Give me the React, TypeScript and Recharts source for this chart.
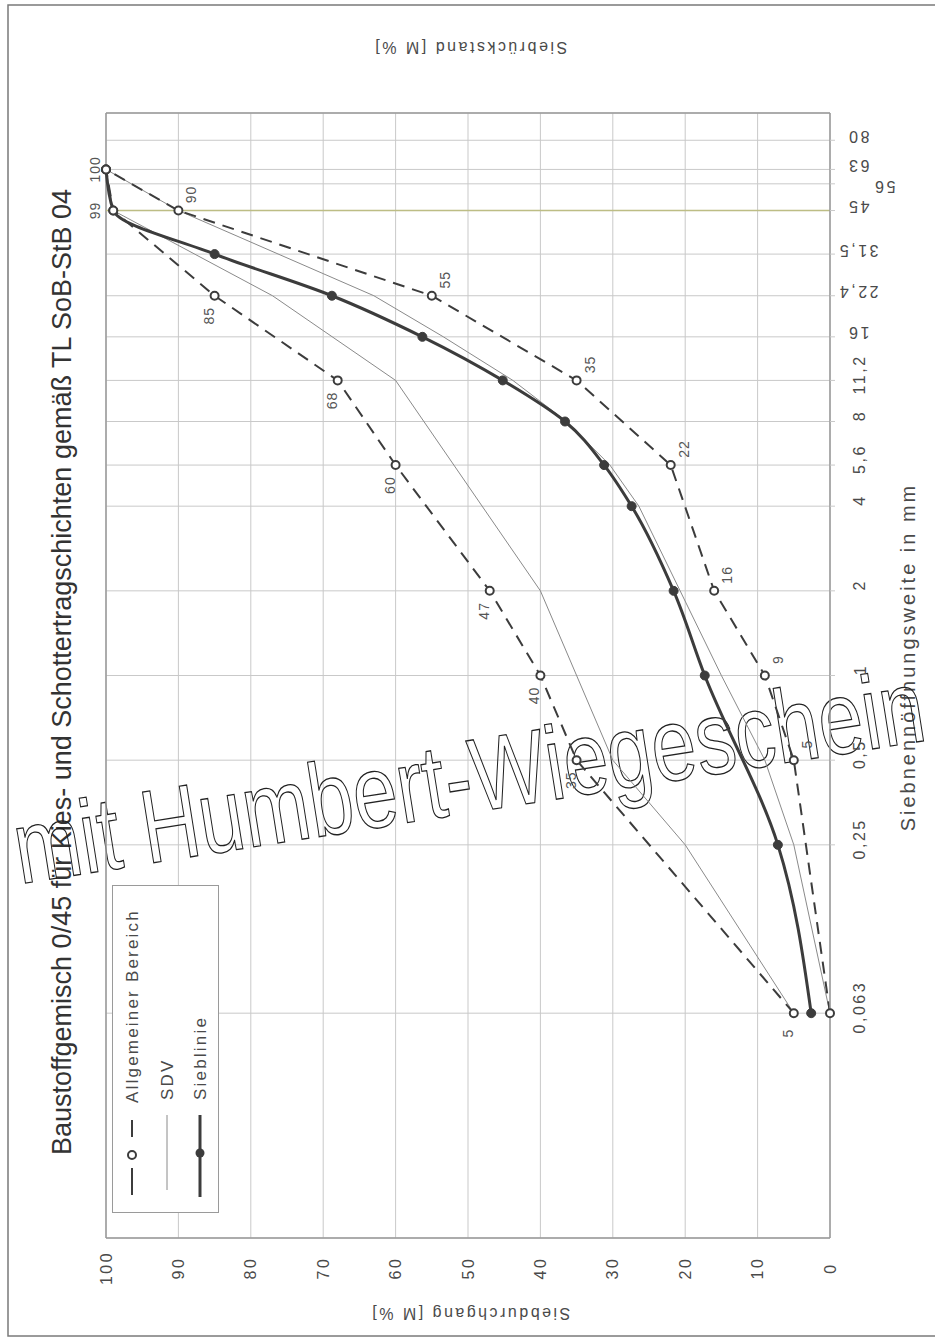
import React from 'react';
import { LineChart, Line, XAxis, YAxis, CartesianGrid, ReferenceLine, Legend, LabelList } from 'recharts';

// ---------- data ----------
const sieveTicks = [0.063, 0.25, 0.5, 1, 2, 4, 5.6, 8, 11.2, 16, 22.4, 31.5, 45, 56, 63, 80];
const sieveTickLabels = ['0,063', '0,25', '0,5', '1', '2', '4', '5,6', '8', '11,2', '16', '22,4', '31,5', '45', '56', '63', '80'];
const percentTicks = [0, 10, 20, 30, 40, 50, 60, 70, 80, 90, 100];

const bereichSizes = [0.063, 0.5, 1, 2, 5.6, 11.2, 22.4, 45, 63];
const bereichOben = [5, 35, 40, 47, 60, 68, 85, 99, 100];
const bereichUnten = [0, 5, 9, 16, 22, 35, 55, 90, 100];

const sdvObenSizes = [0.063, 0.25, 0.5, 2, 11.2, 22.4, 45, 63];
const sdvOben = [5, 20, 30, 40, 60, 77, 99, 100];
const sdvUntenSizes = [0.063, 0.25, 0.5, 1, 2, 4, 5.6, 8, 11.2, 16, 22.4, 45, 63];
const sdvUnten = [0, 5, 9, 15, 20.7, 26.4, 30.4, 36.4, 43.8, 53.4, 63, 90, 100];

const siebSizes = [0.063, 0.25, 1, 2, 4, 5.6, 8, 11.2, 16, 22.4, 31.5, 45, 63];
const siebWerte = [2.6, 7.2, 17.3, 21.6, 27.4, 31.2, 36.6, 45.2, 56.3, 68.8, 85, 99, 100];

const titleText = 'Baustoffgemisch 0/45 für Kies- und Schottertragschichten gemäß TL SoB-StB 04';
const topAxisTitle = 'Siebrückstand  [M %]';
const bottomAxisTitle = 'Siebdurchgang  [M %]';
const rightAxisTitle = 'Siebnennöffnungsweite in mm';
const legendNames = ['Allgemeiner Bereich', 'SDV', 'Sieblinie'];
const watermarkText = 'mit Humbert-Wiegeschein';

const zip = (s: number[], v: number[]) => s.map((size, i) => ({ size, v: v[i] }));
const bereichObenData = zip(bereichSizes, bereichOben);
const bereichUntenData = zip(bereichSizes, bereichUnten);
const sdvObenData = zip(sdvObenSizes, sdvOben);
const sdvUntenData = zip(sdvUntenSizes, sdvUnten);
const siebData = zip(siebSizes, siebWerte);

// ---------- styles ----------
const FONT = "'Liberation Sans', Arial, sans-serif";
const NARROW = "'Liberation Sans Narrow', 'Arial Narrow', 'Liberation Sans', sans-serif";
const TEXT = '#4a4a4a';
const GRID = '#c9c9c9';
const FRAME = '#9a9a9a';
const DARK = '#3c3c3c';

const tickStyle = { fontFamily: FONT, fontSize: 16, fill: TEXT, letterSpacing: 2.5 } as const;

const BottomTick = (props: any) => {
  const { x, payload } = props;
  const y = 1268;
  return (
    <text x={x} y={y} transform={`rotate(-90 ${x} ${y})`} textAnchor="middle" dominantBaseline="central" {...tickStyle}>
      {payload.value}
    </text>
  );
};

const TopTick = (props: any) => {
  const { x, payload } = props;
  const y = 86;
  return (
    <text x={x} y={y} transform={`rotate(-90 ${x} ${y})`} textAnchor="middle" dominantBaseline="central" {...tickStyle}>
      {payload.value}
    </text>
  );
};

const SieveTick = (props: any) => {
  const { y, payload } = props;
  const v = payload.value;
  const label = sieveTickLabels[sieveTicks.indexOf(v)];
  if (v >= 16) {
    const cx = v === 56 ? 884 : 858;
    const cy = v === 56 ? y + 3 : y - 4;
    return (
      <text x={cx} y={cy} transform={`rotate(180 ${cx} ${cy})`} textAnchor="middle" dominantBaseline="central" {...tickStyle}>
        {label}
      </text>
    );
  }
  const cx = 860;
  const cy = y - 6;
  return (
    <text x={cx} y={cy} transform={`rotate(-90 ${cx} ${cy})`} textAnchor="middle" dominantBaseline="central" {...tickStyle}>
      {label}
    </text>
  );
};

const labelStyle = { fontFamily: FONT, fontSize: 14, fill: '#555', letterSpacing: 1 } as const;

const UpperLabel = (props: any) => {
  const { x, y, value } = props;
  if (x == null || y == null) return null;
  let cx = x - 6;
  let cy = y + 20;
  if (value >= 99) {
    cx = x - (value === 100 ? 11 : 18);
    cy = y;
  }
  return (
    <text x={cx} y={cy} transform={`rotate(-90 ${cx} ${cy})`} textAnchor="middle" dominantBaseline="central" {...labelStyle}>
      {value}
    </text>
  );
};

const LowerLabel = (props: any) => {
  const { x, y, value } = props;
  if (x == null || y == null) return null;
  if (value === 0 || value === 100) return null;
  const cx = x + 13;
  const cy = y - 16;
  return (
    <text x={cx} y={cy} transform={`rotate(-90 ${cx} ${cy})`} textAnchor="middle" dominantBaseline="central" {...labelStyle}>
      {value}
    </text>
  );
};

const OpenDot = (props: any) => {
  const { cx, cy, index } = props;
  if (cx == null || cy == null) return <g key={`o${index}`} />;
  return <circle key={`o${index}`} cx={cx} cy={cy} r={4} fill="#fff" stroke={DARK} strokeWidth={2} />;
};

const FilledDot = (props: any) => {
  const { cx, cy, index } = props;
  if (cx == null || cy == null) return <g key={`f${index}`} />;
  return <circle key={`f${index}`} cx={cx} cy={cy} r={4.5} fill={DARK} stroke={DARK} strokeWidth={1} />;
};

const legendText = { fontFamily: FONT, fontSize: 17, fill: TEXT, letterSpacing: 2.2 } as const;

const LegendBox = () => (
  <svg width={107} height={328} style={{ display: 'block' }}>
    <rect x={0.5} y={0.5} width={106} height={327} fill="#fff" stroke={FRAME} strokeWidth={1} />
    {/* Allgemeiner Bereich */}
    <line x1={20} y1={235} x2={20} y2={252} stroke={DARK} strokeWidth={2} />
    <line x1={20} y1={283} x2={20} y2={310} stroke={DARK} strokeWidth={2} />
    <circle cx={20} cy={270} r={4} fill="#fff" stroke={DARK} strokeWidth={2} />
    <text x={20} y={218} transform="rotate(-90 20 218)" dominantBaseline="central" {...legendText}>{legendNames[0]}</text>
    {/* SDV */}
    <line x1={55} y1={230} x2={55} y2={305} stroke="#8a8a8a" strokeWidth={1} />
    <text x={55} y={215} transform="rotate(-90 55 215)" dominantBaseline="central" {...legendText}>{legendNames[1]}</text>
    {/* Sieblinie */}
    <line x1={88} y1={230} x2={88} y2={312} stroke={DARK} strokeWidth={3} />
    <circle cx={88} cy={268} r={4.5} fill={DARK} />
    <text x={88} y={215} transform="rotate(-90 88 215)" dominantBaseline="central" {...legendText}>{legendNames[2]}</text>
  </svg>
);

export default function App() {
  return (
    <div style={{ position: 'absolute', left: 0, top: 0, width: 935, height: 1343, background: '#fff' }}>
      <LineChart
        width={935}
        height={1343}
        layout="vertical"
        margin={{ top: 63, right: 55, bottom: 55, left: 106 }}
      >
        <CartesianGrid stroke={GRID} strokeWidth={1} />
        <XAxis
          xAxisId={0}
          type="number"
          orientation="bottom"
          domain={[0, 100]}
          reversed
          ticks={percentTicks}
          height={50}
          tickLine={false}
          axisLine={{ stroke: FRAME, strokeWidth: 1.5 }}
          tick={<BottomTick />}
          interval={0}
        />
        <XAxis
          xAxisId="top"
          type="number"
          orientation="top"
          domain={[0, 100]}
          ticks={percentTicks}
          height={50}
          tickLine={false}
          axisLine={{ stroke: FRAME, strokeWidth: 1.5 }}
          tick={<TopTick />}
          interval={0}
        />
        <YAxis
          yAxisId={0}
          type="number"
          dataKey="size"
          orientation="right"
          scale="log"
          domain={[0.01, 100]}
          reversed
          allowDataOverflow
          ticks={sieveTicks}
          interval={0}
          width={50}
          tickSize={5}
          tickLine={{ stroke: GRID }}
          axisLine={{ stroke: FRAME, strokeWidth: 1.5 }}
          tick={<SieveTick />}
        />
        <ReferenceLine x={100} stroke={FRAME} strokeWidth={1.5} />
        <ReferenceLine y={45} stroke="#bdbd85" strokeWidth={1.5} />

        <Line
          data={sdvObenData}
          dataKey="v"
          name="SDV"
          type="linear"
          stroke="#8a8a8a"
          strokeWidth={1}
          dot={false}
          activeDot={false}
          isAnimationActive={false}
        />
        <Line
          data={sdvUntenData}
          dataKey="v"
          name="SDV unten"
          type="linear"
          stroke="#8a8a8a"
          strokeWidth={1}
          dot={false}
          activeDot={false}
          isAnimationActive={false}
        />
        <Line
          data={siebData}
          dataKey="v"
          name="Sieblinie"
          type="monotone"
          stroke={DARK}
          strokeWidth={3}
          dot={<FilledDot />}
          activeDot={false}
          isAnimationActive={false}
        />
        <Line
          data={bereichObenData}
          dataKey="v"
          name="Allgemeiner Bereich"
          type="linear"
          stroke={DARK}
          strokeWidth={2}
          strokeDasharray="12 8"
          dot={<OpenDot />}
          activeDot={false}
          isAnimationActive={false}
        >
          <LabelList dataKey="v" content={<UpperLabel />} />
        </Line>
        <Line
          data={bereichUntenData}
          dataKey="v"
          name="Allgemeiner Bereich unten"
          type="linear"
          stroke={DARK}
          strokeWidth={2}
          strokeDasharray="12 8"
          dot={<OpenDot />}
          activeDot={false}
          isAnimationActive={false}
        >
          <LabelList dataKey="v" content={<LowerLabel />} />
        </Line>

        <Legend
          layout="vertical"
          align="center"
          verticalAlign="middle"
          wrapperStyle={{ left: 112, top: 885, width: 107, height: 328 }}
          content={<LegendBox />}
        />

        {/* page frame */}
        <rect x={8} y={5} width={940} height={1331} fill="none" stroke="#7a7a7a" strokeWidth={1.5} />

        {/* chart title */}
        <text x={62} y={672} transform="rotate(-90 62 672)" textAnchor="middle" dominantBaseline="central"
          fontFamily={NARROW} fontSize={27} fill="#333">{titleText}</text>

        {/* axis titles */}
        <text x={470} y={47} transform="rotate(180 470 47)" textAnchor="middle" dominantBaseline="central"
          fontFamily={FONT} fontSize={16} fill={TEXT} letterSpacing={2.5}>{topAxisTitle}</text>
        <text x={470} y={1313} transform="rotate(180 470 1313)" textAnchor="middle" dominantBaseline="central"
          fontFamily={FONT} fontSize={16} fill={TEXT} letterSpacing={2.5}>{bottomAxisTitle}</text>
        <text x={908} y={657} transform="rotate(-90 908 657)" textAnchor="middle" dominantBaseline="central"
          fontFamily={FONT} fontSize={20} fill={TEXT} letterSpacing={3}>{rightAxisTitle}</text>

        {/* watermark */}
        <g transform="translate(20 884) rotate(-9) scale(1 1.3)">
          <text x={0} y={0} fontFamily={FONT} fontSize={80} textAnchor="start"
            fill="none" stroke="#222" strokeWidth={1}>{watermarkText}</text>
        </g>
      </LineChart>
    </div>
  );
}
